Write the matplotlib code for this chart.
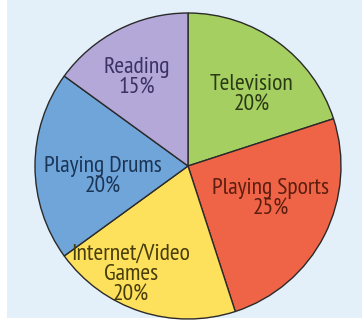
import matplotlib
matplotlib.use("Agg")
import matplotlib.pyplot as plt
import numpy as np

categories = ["Television", "Playing Sports", "Internet/Video\nGames", "Playing Drums", "Reading"]
values = [20, 25, 20, 20, 15]
colors = ["#a6cf62", "#ef6446", "#fde05c", "#70a5da", "#b3a8d8"]
text_colors = ["#2b3a16", "#5c1e10", "#463c0c", "#1b3556", "#3a3263"]
label_pos = [(0.418, 0.464), (0.542, -0.216), (-0.373, -0.712), (-0.556, -0.072), (-0.333, 0.575)]

W, H = 362, 328
fig = plt.figure(figsize=(W / 100, H / 100), dpi=100)
fig.patch.set_facecolor("white")
bg = fig.add_axes([7 / W, 10 / H, 1 - 7 / W, 1 - 10 / H])
bg.set_facecolor("#e4f0f9")
bg.set_xticks([])
bg.set_yticks([])
for s in bg.spines.values():
    s.set_visible(False)

cx, cy, r = 188, 166, 153
ax = fig.add_axes([(cx - r) / W, (H - cy - r) / H, 2 * r / W, 2 * r / H])
ax.set_facecolor("none")
wedges, _ = ax.pie(values, colors=colors, startangle=90, counterclock=False,
                   radius=1, wedgeprops=dict(edgecolor="#2a2a2a", linewidth=1.0))
ax.set_xlim(-1, 1)
ax.set_ylim(-1, 1)
ax.set_aspect("equal")
ax.axis("off")

for cat, v, (x, y), tc in zip(categories, values, label_pos, text_colors):
    ax.text(x, y, f"{cat}\n{v}%", ha="center", va="center", fontsize=17,
            color=tc, linespacing=0.98, family=["PT Sans Narrow", "DejaVu Sans"])

fig.savefig("out.png", dpi=100)
